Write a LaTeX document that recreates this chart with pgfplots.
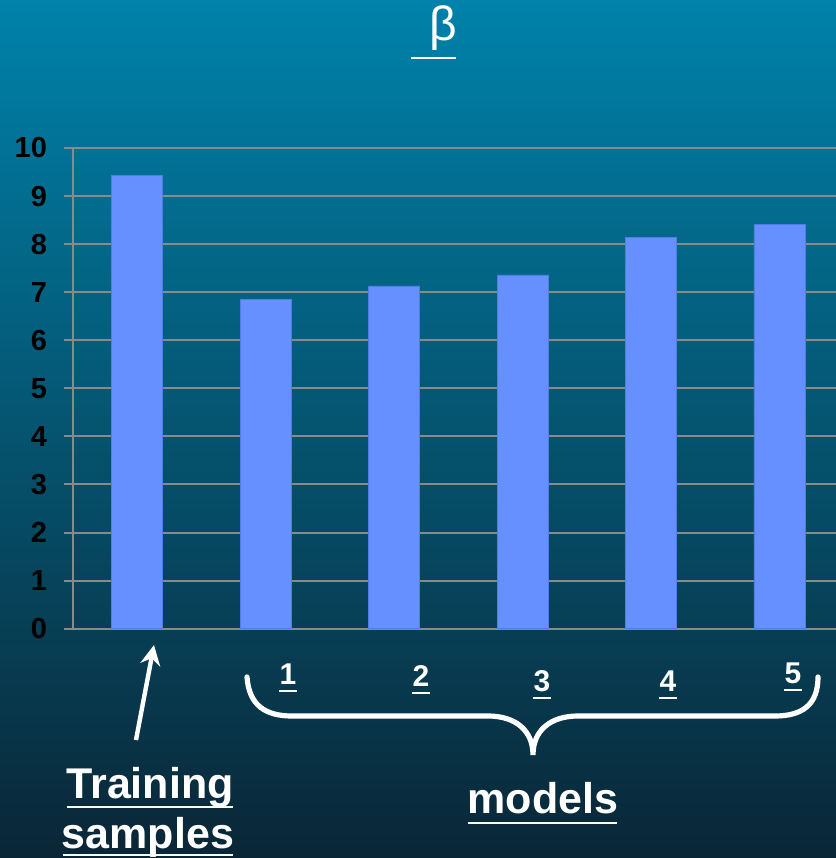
\documentclass[border=0pt]{standalone}
\usepackage{pgfplots}
\pgfplotsset{compat=1.18}
\usetikzlibrary{arrows.meta}
\usepackage{fontspec}
\setmainfont{Liberation Sans}

\definecolor{bgtop}{HTML}{0082AA}
\definecolor{bgmid}{HTML}{035C7C}
\definecolor{bgbot}{HTML}{0A2636}
\definecolor{barfill}{HTML}{6690FF}
\definecolor{baredge}{HTML}{4F7FE6}
\definecolor{gridgrey}{HTML}{8A8A8A}

\begin{document}
\begin{tikzpicture}
% background panel
\shade[top color=bgtop, middle color=bgmid, bottom color=bgbot]
  (0,0) rectangle (418pt,429pt);

\begin{axis}[
  at={(36.5pt,114.65pt)}, anchor=south west,
  scale only axis,
  width=381.5pt, height=240.35pt,
  xmin=-0.5, xmax=5.44,
  ymin=0, ymax=10,
  ytick={0,1,...,10},
  xtick=\empty,
  ymajorgrids,
  grid style={gridgrey, line width=1pt},
  axis x line*=bottom,
  axis y line*=left,
  axis line style={gridgrey, line width=1pt},
  y axis line style={-},
  x axis line style={-},
  tick align=outside,
  major tick length=4.5pt,
  tick style={gridgrey, line width=1pt},
  yticklabel style={font=\bfseries\fontsize{14.5}{16}\selectfont, text=black, xshift=-5pt},
  /pgf/number format/assume math mode=true,
  clip=false,
]
\addplot[ybar, bar width=25.5pt, fill=barfill, draw=baredge, line width=0.4pt]
  coordinates {(0,9.42) (1,6.85) (2,7.13) (3,7.36) (4,8.13) (5,8.41)};
\end{axis}

% annotations, in a top-left based frame
\begin{scope}[x=0.5pt, y=-0.5pt, yshift=429pt]
  % title
  \node[text=white, font=\fontsize{24}{26}\selectfont, anchor=base] at (443,41) {β};
  \draw[white, line width=1.2pt] (411,58) -- (456,58);

  % arrow to the training bar
  \draw[white, line width=2.2pt, -{Stealth[length=10pt,width=10pt]}] (136,740) -- (154,645);

  % labels under the brace
  \foreach \lab/\px/\py in {1/288/685, 2/421/687, 3/542/692, 4/668/692, 5/793/684}{
    \node[text=white, font=\bfseries\fontsize{15}{17}\selectfont, anchor=base, inner sep=0pt] at (\px,\py) {\lab};
    \draw[white, line width=1pt] (\px-9,\py+6) -- (\px+9,\py+6);
  }

  % brace
  \draw[white, line width=2.6pt, line cap=round]
    (247,677) .. controls (249,705) and (265,716) .. (292,716)
    -- (488,716) .. controls (515,716) and (533,730) .. (533,755)
    .. controls (533,730) and (551,716) .. (578,716)
    -- (775,716) .. controls (802,716) and (818,705) .. (818,677);

  % captions
  \node[text=white, font=\bfseries\fontsize{21.5}{24}\selectfont, anchor=base] at (150,799) {Training};
  \draw[white, line width=1.2pt] (67,807) -- (233,807);
  \node[text=white, font=\bfseries\fontsize{21.5}{24}\selectfont, anchor=base] at (148,848) {samples};
  \draw[white, line width=1.2pt] (63,855) -- (233,855);
  \node[text=white, font=\bfseries\fontsize{21.5}{24}\selectfont, anchor=base] at (543,813) {models};
  \draw[white, line width=1.2pt] (468,823) -- (617,823);
\end{scope}

\pgfresetboundingbox
\useasboundingbox (0,0) rectangle (418pt,429pt);
\end{tikzpicture}
\end{document}
